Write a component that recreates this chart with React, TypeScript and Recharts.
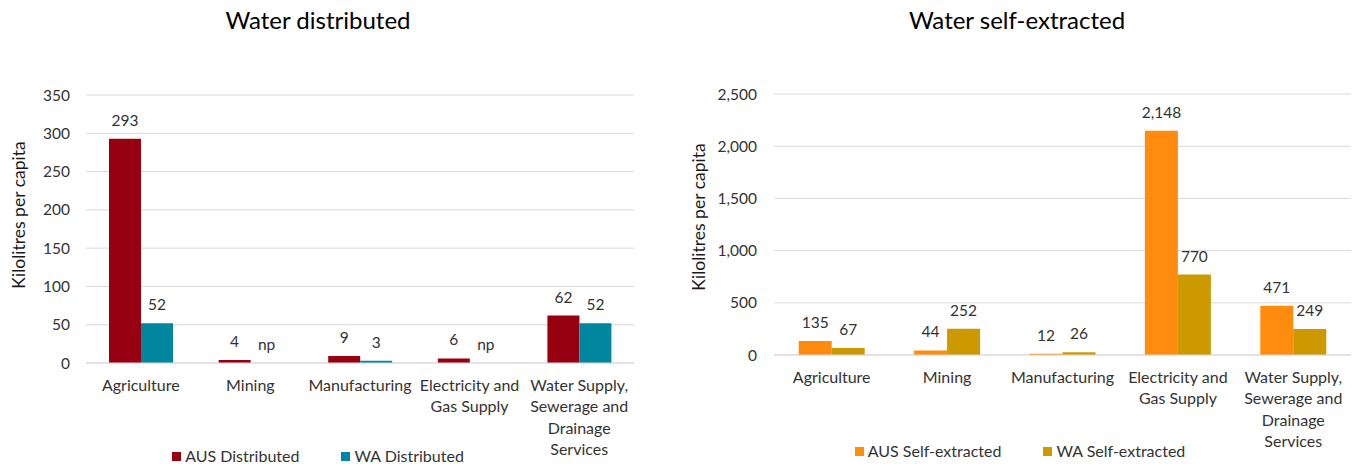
import React from "react"
import { Bar, BarChart, CartesianGrid, LabelList, Label, XAxis, YAxis } from "recharts"

const categories = [
    "Agriculture",
    "Mining",
    "Manufacturing",
    "Electricity and Gas Supply",
    "Water Supply, Sewerage and Drainage Services",
]

// how each category name breaks under its group
const categoryLines = [
    ["Agriculture"],
    ["Mining"],
    ["Manufacturing"],
    ["Electricity and", "Gas Supply"],
    ["Water Supply,", "Sewerage and", "Drainage", "Services"],
]

// kilolitres per capita; null = not published (np)
const ausDistributed = [293, 4, 9, 6, 62]
const waDistributed: (number | null)[] = [52, null, 3, null, 52]
const ausSelfExtracted = [135, 44, 12, 2148, 471]
const waSelfExtracted = [67, 252, 26, 770, 249]

const distributedTicks = [0, 50, 100, 150, 200, 250, 300, 350]
const selfExtractedTicks = [0, 500, 1000, 1500, 2000, 2500]

const FONT = "Lato, 'Open Sans', sans-serif"
const TEXT = "#333333"

const distributedData = categories.map((name, i) => ({
    name,
    aus: ausDistributed[i],
    wa: waDistributed[i],
}))

const selfExtractedData = categories.map((name, i) => ({
    name,
    aus: ausSelfExtracted[i],
    wa: waSelfExtracted[i],
}))

const fmt = (v: number) => v.toLocaleString("en-US")

function CategoryTick(props: any) {
    const { x, y, payload } = props
    const lines = categoryLines[categories.indexOf(payload.value)] || [payload.value]
    return (
        <text x={x} y={y} textAnchor="middle" fill={TEXT} fontSize={16} fontFamily={FONT}>
            {lines.map((line, i) => (
                <tspan key={i} x={x} y={y + 20 + i * 21.3}>
                    {line}
                </tspan>
            ))}
        </text>
    )
}

// value label above each bar; when the partner series has no value, "np" sits beside it
function makeValueLabel(partner?: (number | null)[]) {
    return (props: any) => {
        const box = props.viewBox || props
        const { x, y, width, height } = box
        const { value, index } = props
        if (value == null) return null
        return (
            <g>
                <text
                    x={x + width / 2}
                    y={y - 13}
                    textAnchor="middle"
                    fill={TEXT}
                    fontSize={15.5}
                    fontFamily={FONT}
                >
                    {fmt(value)}
                </text>
                {partner && partner[index] == null && (
                    <text
                        x={x + width * 1.5}
                        y={y + height - 13}
                        textAnchor="middle"
                        fill={TEXT}
                        fontSize={15.5}
                        fontFamily={FONT}
                    >
                        np
                    </text>
                )}
            </g>
        )
    }
}

function AxisTitle({ x, y }: { x: number; y: number }) {
    return (
        <text
            x={x}
            y={y}
            transform={`rotate(-90 ${x} ${y})`}
            textAnchor="middle"
            dominantBaseline="central"
            fill="#1a1a1a"
            fontSize={17.5}
            fontFamily={FONT}
        >
            Kilolitres per capita
        </text>
    )
}

function LegendRow({ items, center, top }: { items: { label: string; color: string }[]; center: number; top: number }) {
    return (
        <div
            style={{
                position: "absolute",
                left: center - 300,
                width: 600,
                top,
                display: "flex",
                justifyContent: "center",
                gap: 42,
                fontFamily: FONT,
                fontSize: 16,
                color: TEXT,
                lineHeight: "18px",
            }}
        >
            {items.map((it) => (
                <div key={it.label} style={{ display: "flex", alignItems: "center", gap: 4 }}>
                    <span style={{ width: 9, height: 9, background: it.color, display: "inline-block" }} />
                    <span>{it.label}</span>
                </div>
            ))}
        </div>
    )
}

function Title({ text, center }: { text: string; center: number }) {
    return (
        <div
            style={{
                position: "absolute",
                left: center - 200,
                width: 400,
                top: 5,
                textAlign: "center",
                fontFamily: FONT,
                fontSize: 24,
                lineHeight: "30px",
                color: "#000",
            }}
        >
            {text}
        </div>
    )
}

export default function App() {
    return (
        <div style={{ position: "absolute", left: 0, top: 0, width: 1355, height: 464, background: "#fff", overflow: "hidden" }}>
            <Title text="Water distributed" center={318} />
            <Title text="Water self-extracted" center={1017} />

            <div style={{ position: "absolute", left: 0, top: 0 }}>
                <BarChart
                    width={677}
                    height={464}
                    data={distributedData}
                    margin={{ top: 95, right: 43, bottom: 0, left: 0 }}
                    barCategoryGap="21%"
                    barGap={0}
                >
                    <CartesianGrid vertical={false} stroke="#d9d9d9" />
                    <XAxis
                        dataKey="name"
                        height={101}
                        interval={0}
                        tickLine={false}
                        axisLine={{ stroke: "#d9d9d9" }}
                        tick={<CategoryTick />}
                    />
                    <YAxis
                        width={86}
                        domain={[0, 350]}
                        ticks={distributedTicks}
                        tickLine={false}
                        axisLine={false}
                        tickMargin={10}
                        tick={{ fill: TEXT, fontSize: 15.5, fontFamily: FONT }}
                    >
                        <Label content={() => <AxisTitle x={18} y={215} />} />
                    </YAxis>
                    <Bar dataKey="aus" name="AUS Distributed" fill="#960010" isAnimationActive={false}>
                        <LabelList dataKey="aus" content={makeValueLabel(waDistributed)} />
                    </Bar>
                    <Bar dataKey="wa" name="WA Distributed" fill="#00869E" isAnimationActive={false}>
                        <LabelList dataKey="wa" content={makeValueLabel()} />
                    </Bar>
                </BarChart>
            </div>

            <div style={{ position: "absolute", left: 677, top: 0 }}>
                <BarChart
                    width={678}
                    height={464}
                    data={selfExtractedData}
                    margin={{ top: 94, right: 4, bottom: 0, left: 0 }}
                    barCategoryGap="21.4%"
                    barGap={0}
                >
                    <CartesianGrid vertical={false} stroke="#d9d9d9" />
                    <XAxis
                        dataKey="name"
                        height={109}
                        interval={0}
                        tickLine={false}
                        axisLine={{ stroke: "#d9d9d9" }}
                        tick={<CategoryTick />}
                    />
                    <YAxis
                        width={97}
                        domain={[0, 2500]}
                        ticks={selfExtractedTicks}
                        tickLine={false}
                        axisLine={false}
                        tickMargin={11}
                        tickFormatter={fmt}
                        tick={{ fill: TEXT, fontSize: 15.5, fontFamily: FONT }}
                    >
                        <Label content={() => <AxisTitle x={21} y={217} />} />
                    </YAxis>
                    <Bar dataKey="aus" name="AUS Self-extracted" fill="#FF8C0F" isAnimationActive={false}>
                        <LabelList dataKey="aus" content={makeValueLabel()} />
                    </Bar>
                    <Bar dataKey="wa" name="WA Self-extracted" fill="#CC9900" isAnimationActive={false}>
                        <LabelList dataKey="wa" content={makeValueLabel()} />
                    </Bar>
                </BarChart>
            </div>

            <LegendRow
                center={318}
                top={447}
                items={[
                    { label: "AUS Distributed", color: "#960010" },
                    { label: "WA Distributed", color: "#00869E" },
                ]}
            />
            <LegendRow
                center={1020}
                top={442}
                items={[
                    { label: "AUS Self-extracted", color: "#FF8C0F" },
                    { label: "WA Self-extracted", color: "#CC9900" },
                ]}
            />
        </div>
    )
}
